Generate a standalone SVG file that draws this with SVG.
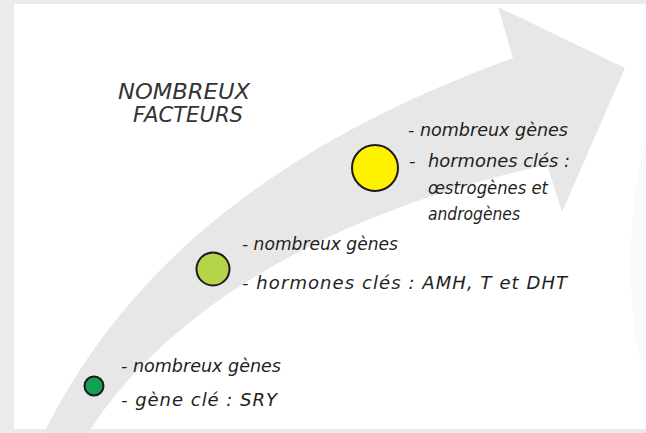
<svg xmlns="http://www.w3.org/2000/svg" width="646" height="433" viewBox="0 0 646 433">
<style>
.t{font-family:"DejaVu Sans","Liberation Sans",sans-serif;font-style:italic;font-size:18px;fill:#1e1e1e}
.h{font-family:"DejaVu Sans","Liberation Sans",sans-serif;font-style:italic;font-size:21px;fill:#333}
.c{stroke:#1a1a1a;stroke-width:2}
</style>
<rect x="0" y="0" width="646" height="433" fill="#ebebeb"/>
<rect x="14" y="4" width="632" height="425" fill="#ffffff"/>
<g id="arrow">
<path d="M44 433 C120 280 260 150 513 58 L498 7 L625 68 L562 212 L547 165 C430 190 200 260 88 433 Z" fill="#e7e7e7"/>
<path d="M646 140 C628 200 626 300 640 360 L646 360 Z" fill="#fafafa"/>
</g>
<g id="title">
<text class="h" x="118" y="99" textLength="132" lengthAdjust="spacingAndGlyphs">NOMBREUX</text>
<text class="h" x="133" y="122" textLength="110" lengthAdjust="spacingAndGlyphs">FACTEURS</text>
</g>
<g id="node-yellow">
<circle class="c" cx="375" cy="168" r="23" fill="#fff200"/>
<text class="t" x="408" y="136" textLength="160" lengthAdjust="spacingAndGlyphs">- nombreux gènes</text>
<text class="t" x="409" y="167">-</text>
<text class="t" x="428" y="167" textLength="142" lengthAdjust="spacingAndGlyphs">hormones clés :</text>
<text class="t" x="428" y="194" textLength="120" lengthAdjust="spacingAndGlyphs">œstrogènes et</text>
<text class="t" x="428" y="220" textLength="92" lengthAdjust="spacingAndGlyphs">androgènes</text>
</g>
<g id="node-lightgreen">
<circle class="c" cx="213" cy="269" r="16.5" fill="#b5d44a"/>
<text class="t" x="242" y="250" textLength="156" lengthAdjust="spacingAndGlyphs">- nombreux gènes</text>
<text class="t" x="242" y="289" textLength="325" lengthAdjust="spacing">- hormones clés : AMH, T et DHT</text>
</g>
<g id="node-green">
<circle class="c" cx="94" cy="386" r="9.5" fill="#14a050"/>
<text class="t" x="121" y="372" textLength="160" lengthAdjust="spacingAndGlyphs">- nombreux gènes</text>
<text class="t" x="121" y="406" textLength="156" lengthAdjust="spacing">- gène clé : SRY</text>
</g>
<g id="connectors"></g>
</svg>
